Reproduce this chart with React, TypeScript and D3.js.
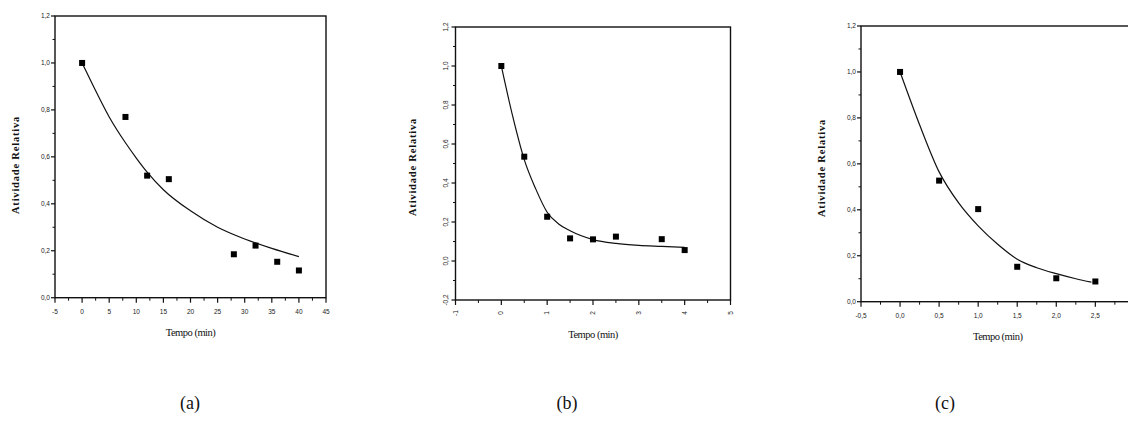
import React from "react";
import * as d3 from "d3";

// ---- Data ----
const aTime = [0, 8, 12, 16, 28, 32, 36, 40];
const aActivity = [1.0, 0.77, 0.52, 0.505, 0.185, 0.222, 0.153, 0.116];
const aFitTime = [0, 2, 5, 8, 10, 12, 15, 20, 25, 30, 35, 40];
const aFitActivity = [1.0, 0.905, 0.77, 0.66, 0.595, 0.535, 0.46, 0.37, 0.3, 0.25, 0.21, 0.175];
const aXTicks = [-5, 0, 5, 10, 15, 20, 25, 30, 35, 40, 45];
const aYTicks = [0, 0.2, 0.4, 0.6, 0.8, 1.0, 1.2];

const bTime = [0, 0.5, 1.0, 1.5, 2.0, 2.5, 3.5, 4.0];
const bActivity = [1.0, 0.535, 0.227, 0.116, 0.111, 0.125, 0.112, 0.056];
const bFitTime = [0, 0.25, 0.5, 0.75, 1.0, 1.25, 1.5, 2.0, 2.5, 3.0, 3.5, 4.0];
const bFitActivity = [1.0, 0.74, 0.52, 0.37, 0.25, 0.19, 0.155, 0.11, 0.09, 0.08, 0.075, 0.07];
const bXTicks = [-1, 0, 1, 2, 3, 4, 5];
const bYTicks = [-0.2, 0, 0.2, 0.4, 0.6, 0.8, 1.0, 1.2];

const cTime = [0, 0.5, 1.0, 1.5, 2.0, 2.5];
const cActivity = [1.0, 0.527, 0.403, 0.152, 0.102, 0.088];
const cFitTime = [0, 0.25, 0.5, 0.75, 1.0, 1.25, 1.5, 1.75, 2.0, 2.25, 2.45];
const cFitActivity = [1.0, 0.77, 0.565, 0.43, 0.33, 0.25, 0.185, 0.148, 0.122, 0.1, 0.085];
const cXTicks = [-0.5, 0, 0.5, 1.0, 1.5, 2.0, 2.5, 3.0];
const cYTicks = [0, 0.2, 0.4, 0.6, 0.8, 1.0, 1.2];

const panelLetters = ["(a)", "(b)", "(c)"];
const xTitle = "Tempo (min)";
const yTitle = "Atividade Relativa";

const SERIF = { fontFamily: "'Liberation Serif'" };
const SANS = { fontFamily: "'Liberation Sans'" };

type PanelProps = {
  time: number[];
  act: number[];
  fitT: number[];
  fitA: number[];
  xTicks: number[];
  yTicks: number[];
  xDomain: [number, number];
  yDomain: [number, number];
  box: { left: number; right: number; top: number; bottom: number };
  xDec: number;
  rotated: boolean;
  yTitleX: number;
  yTitleY: number;
  letter: string;
  letterX: number;
};

const fmt = (v: number, dec: number) => v.toFixed(dec).replace(".", ",");

const Panel: React.FC<PanelProps> = (p) => {
  const { box } = p;
  const x = d3.scaleLinear().domain(p.xDomain).range([box.left, box.right]);
  const y = d3.scaleLinear().domain(p.yDomain).range([box.bottom, box.top]);
  const yTop = y.invert(box.top);
  const line = d3
    .line<number>()
    .x((_, i) => x(p.fitT[i]))
    .y((d) => y(d))
    .curve(d3.curveMonotoneX);

  const xMinor: number[] = [];
  for (let i = 0; i < p.xTicks.length - 1; i++) xMinor.push((p.xTicks[i] + p.xTicks[i + 1]) / 2);
  const yMinor: number[] = [];
  for (let i = 0; i < p.yTicks.length - 1; i++) yMinor.push((p.yTicks[i] + p.yTicks[i + 1]) / 2);
  if (yTop > p.yTicks[p.yTicks.length - 1] + 0.05) yMinor.push(p.yTicks[p.yTicks.length - 1] + 0.1);

  const cx = (box.left + box.right) / 2;

  return (
    <g>
      <rect
        x={box.left}
        y={box.top}
        width={box.right - box.left}
        height={box.bottom - box.top}
        fill="none"
        stroke="#111"
        strokeWidth={1.4}
      />
      {p.xTicks.map((t) => (
        <g key={"xt" + t}>
          <line x1={x(t)} x2={x(t)} y1={box.bottom} y2={box.bottom + 5} stroke="#111" strokeWidth={1.2} />
          {p.rotated ? (
            <text
              transform={`translate(${x(t) + 2},${box.bottom + 13}) rotate(-90)`}
              fontSize={6.5}
              style={SANS}
              fill="#222"
              textAnchor="middle"
            >
              {fmt(t, 0)}
            </text>
          ) : (
            <text x={x(t)} y={box.bottom + 16} fontSize={6.5} style={SANS} fill="#222" textAnchor="middle">
              {fmt(t, p.xDec)}
            </text>
          )}
        </g>
      ))}
      {xMinor.map((t) => (
        <line key={"xm" + t} x1={x(t)} x2={x(t)} y1={box.bottom} y2={box.bottom + 3} stroke="#111" strokeWidth={1} />
      ))}
      {p.yTicks.map((t) => (
        <g key={"yt" + t}>
          <line x1={box.left - 4} x2={box.left} y1={y(t)} y2={y(t)} stroke="#111" strokeWidth={1.2} />
          {p.rotated ? (
            <text
              transform={`translate(${box.left - 8},${y(t)}) rotate(-90)`}
              fontSize={6.5}
              style={SANS}
              fill="#222"
              textAnchor="middle"
            >
              {fmt(t, 1)}
            </text>
          ) : (
            <text x={box.left - 5} y={y(t) + 2.3} fontSize={6.5} style={SANS} fill="#222" textAnchor="end">
              {fmt(t, 1)}
            </text>
          )}
        </g>
      ))}
      {yMinor.map((t) => (
        <line key={"ym" + t} x1={box.left - 2.5} x2={box.left} y1={y(t)} y2={y(t)} stroke="#111" strokeWidth={1} />
      ))}
      <path d={line(p.fitA) || ""} fill="none" stroke="#111" strokeWidth={1.2} />
      {p.time.map((t, i) => (
        <rect key={"pt" + i} x={x(t) - 3} y={y(p.act[i]) - 3} width={6} height={6} fill="#000" />
      ))}
      <text x={cx} y={box.bottom + 38} fontSize={10.5} style={SERIF} textAnchor="middle" fill="#111" letterSpacing={-0.5}>
        {xTitle}
      </text>
      <text
        transform={`translate(${p.yTitleX},${p.yTitleY}) rotate(-90)`}
        fontSize={10.5}
        style={SERIF}
        fontWeight="bold"
        textAnchor="middle"
        fill="#111"
        letterSpacing={0.8}
      >
        {yTitle}
      </text>
      <text x={p.letterX} y={409} fontSize={18} style={SERIF} textAnchor="middle" fill="#111">
        {p.letter}
      </text>
    </g>
  );
};

export default function App() {
  return (
    <svg width={1128} height={432} style={{ position: "absolute", left: 0, top: 0, background: "#fff" }}>
      <rect width={1128} height={432} fill="#fff" />
      <Panel
        time={aTime}
        act={aActivity}
        fitT={aFitTime}
        fitA={aFitActivity}
        xTicks={aXTicks}
        yTicks={aYTicks}
        xDomain={[-5, 45]}
        yDomain={[0, 1.2]}
        box={{ left: 55, right: 326, top: 16, bottom: 297.7 }}
        xDec={0}
        rotated={false}
        yTitleX={19}
        yTitleY={165}
        letter={panelLetters[0]}
        letterX={190}
      />
      <Panel
        time={bTime}
        act={bActivity}
        fitT={bFitTime}
        fitA={bFitActivity}
        xTicks={bXTicks}
        yTicks={bYTicks}
        xDomain={[-1, 5]}
        yDomain={[-0.2, 1.2]}
        box={{ left: 455.5, right: 730.5, top: 27, bottom: 300 }}
        xDec={0}
        rotated={true}
        yTitleX={416}
        yTitleY={167}
        letter={panelLetters[1]}
        letterX={567}
      />
      <Panel
        time={cTime}
        act={cActivity}
        fitT={cFitTime}
        fitA={cFitActivity}
        xTicks={cXTicks}
        yTicks={cYTicks}
        xDomain={[-0.5, 3.0]}
        yDomain={[0, 1.2]}
        box={{ left: 861, right: 1134.4, top: 26, bottom: 301.7 }}
        xDec={1}
        rotated={false}
        yTitleX={825}
        yTitleY={168}
        letter={panelLetters[2]}
        letterX={945}
      />
    </svg>
  );
}
